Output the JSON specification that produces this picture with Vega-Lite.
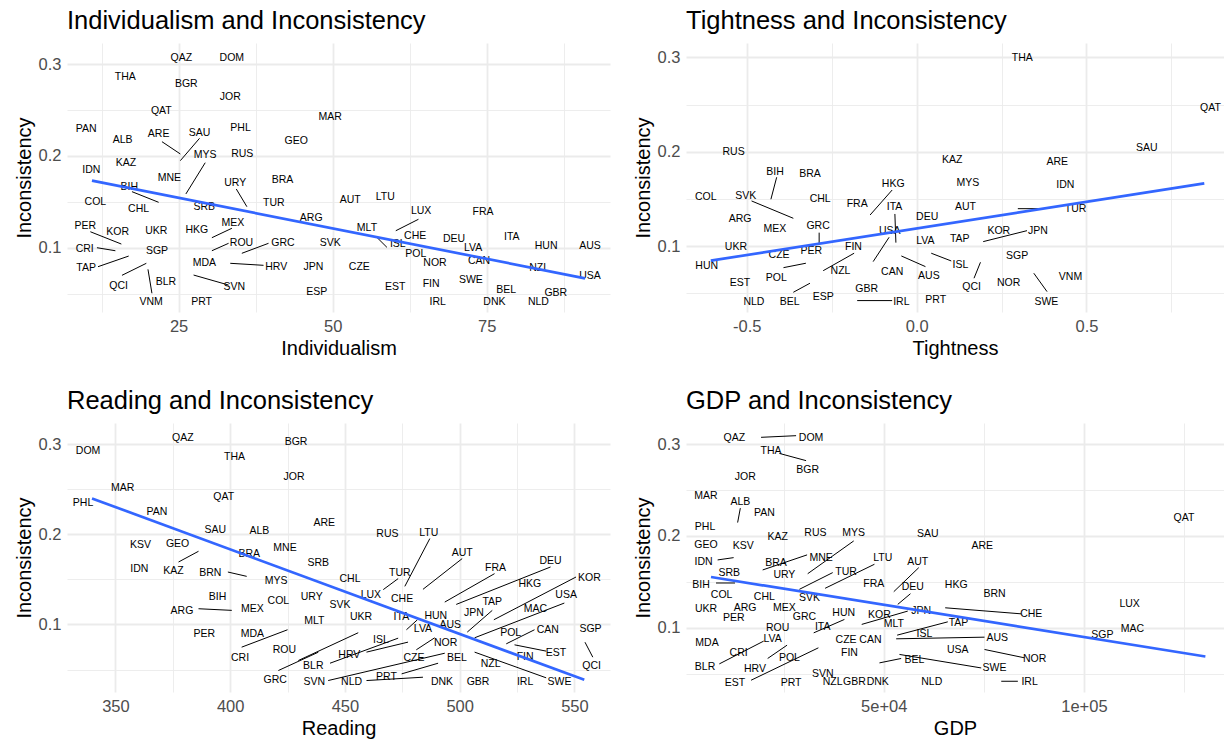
{
"$schema": "https://vega.github.io/schema/vega-lite/v6.json",
"background": "white",
"padding": {"left": 14, "top": 8, "right": 0, "bottom": 0},
"bounds": "flush",
"spacing": {"row": 111, "column": 76},
"columns": 2,
"datasets": {
"lab1": [
{"c":"QAZ","x":25.44,"y":0.3065},{"c":"DOM","x":33.64,"y":0.3065},{"c":"THA","x":16.36,"y":0.2858},{"c":"BGR","x":26.25,"y":0.2782},{"c":"JOR","x":33.38,"y":0.264},{"c":"QAT","x":22.19,"y":0.2494},{"c":"PAN","x":10.0,"y":0.2291},{"c":"PHL","x":35.05,"y":0.2302},{"c":"ALB","x":15.92,"y":0.2174},{"c":"ARE","x":21.76,"y":0.2237},{"c":"SAU","x":28.4,"y":0.2254},{"c":"GEO","x":44.08,"y":0.216},{"c":"MAR","x":49.6,"y":0.2429},{"c":"MYS","x":29.32,"y":0.2008},{"c":"RUS","x":35.33,"y":0.2022},{"c":"IDN","x":10.84,"y":0.1847},{"c":"KAZ","x":16.45,"y":0.1927},{"c":"MNE","x":23.49,"y":0.1757},{"c":"URY","x":34.19,"y":0.1709},{"c":"BRA","x":41.86,"y":0.1738},{"c":"BIH","x":17.0,"y":0.1665},{"c":"COL","x":11.49,"y":0.1502},{"c":"CHL","x":18.51,"y":0.1422},{"c":"SRB","x":29.17,"y":0.144},{"c":"TUR","x":40.46,"y":0.1491},{"c":"AUT","x":52.84,"y":0.152},{"c":"LTU","x":58.52,"y":0.155},{"c":"LUX","x":64.35,"y":0.14},{"c":"FRA","x":74.4,"y":0.1386},{"c":"ARG","x":46.52,"y":0.132},{"c":"MLT","x":55.56,"y":0.1218},{"c":"PER","x":9.87,"y":0.1237},{"c":"KOR","x":15.11,"y":0.1168},{"c":"UKR","x":21.38,"y":0.1182},{"c":"HKG","x":27.97,"y":0.1193},{"c":"MEX","x":33.81,"y":0.1273},{"c":"CHE","x":63.38,"y":0.1131},{"c":"SVK","x":49.6,"y":0.1048},{"c":"DEU","x":69.68,"y":0.1098},{"c":"ITA","x":79.06,"y":0.1113},{"c":"ISL","x":60.56,"y":0.1037},{"c":"HUN","x":84.63,"y":0.1018},{"c":"AUS","x":91.76,"y":0.1018},{"c":"ROU","x":35.2,"y":0.1055},{"c":"GRC","x":41.93,"y":0.1048},{"c":"CRI","x":9.76,"y":0.0989},{"c":"SGP","x":21.49,"y":0.0964},{"c":"LVA","x":72.79,"y":0.0993},{"c":"POL","x":63.49,"y":0.0931},{"c":"NOR","x":66.6,"y":0.0837},{"c":"CAN","x":73.76,"y":0.0855},{"c":"TAP","x":10.0,"y":0.0782},{"c":"MDA","x":29.17,"y":0.083},{"c":"HRV","x":40.84,"y":0.0786},{"c":"JPN","x":46.89,"y":0.0786},{"c":"CZE","x":54.32,"y":0.0786},{"c":"NZL","x":83.5,"y":0.0775},{"c":"USA","x":91.76,"y":0.0691},{"c":"QCI","x":15.27,"y":0.0582},{"c":"BLR","x":22.94,"y":0.0629},{"c":"SVN","x":34.03,"y":0.0575},{"c":"SWE","x":72.43,"y":0.0648},{"c":"EST","x":60.14,"y":0.0568},{"c":"FIN","x":65.97,"y":0.0601},{"c":"BEL","x":78.14,"y":0.0539},{"c":"GBR","x":86.2,"y":0.0509},{"c":"ESP","x":47.43,"y":0.0517},{"c":"VNM","x":20.54,"y":0.0404},{"c":"PRT","x":28.73,"y":0.0404},{"c":"IRL","x":67.04,"y":0.0404},{"c":"DNK","x":76.24,"y":0.0411},{"c":"NLD","x":83.39,"y":0.0411}
],
"seg1": [
{"x":22.3,"y":0.2156,"x2":25.28,"y2":0.2022},{"x":28.4,"y":0.2193,"x2":25.28,"y2":0.1949},{"x":29.32,"y":0.1927,"x2":26.18,"y2":0.1586},{"x":34.36,"y":0.164,"x2":36.08,"y2":0.1447},{"x":17.43,"y":0.1611,"x2":21.76,"y2":0.1495},{"x":10.68,"y":0.1174,"x2":15.71,"y2":0.104},{"x":11.75,"y":0.1,"x2":14.74,"y2":0.0967},{"x":11.92,"y":0.0793,"x2":16.9,"y2":0.0909},{"x":15.81,"y":0.0699,"x2":19.76,"y2":0.083},{"x":20.03,"y":0.0764,"x2":20.67,"y2":0.0503},{"x":30.4,"y":0.1109,"x2":33.65,"y2":0.1212},{"x":30.4,"y":0.0967,"x2":33.11,"y2":0.1048},{"x":35.26,"y":0.0939,"x2":39.59,"y2":0.1048},{"x":33.38,"y":0.083,"x2":38.78,"y2":0.0808},{"x":27.43,"y":0.0702,"x2":33.11,"y2":0.0593},{"x":57.17,"y":0.1113,"x2":58.8,"y2":0.1004},{"x":63.92,"y":0.131,"x2":60.24,"y2":0.1185}
],
"fit1": [{"x":10.94,"y":0.1731},{"x":90.95,"y":0.0666}],
"lab2": [
{"c":"RUS","x":-0.539,"y":0.2},{"c":"BIH","x":-0.417,"y":0.1788},{"c":"BRA","x":-0.314,"y":0.1764},{"c":"COL","x":-0.621,"y":0.1523},{"c":"SVK","x":-0.503,"y":0.1531},{"c":"CHL","x":-0.284,"y":0.1499},{"c":"HKG","x":-0.069,"y":0.1655},{"c":"FRA","x":-0.175,"y":0.1446},{"c":"ITA","x":-0.065,"y":0.1411},{"c":"ARG","x":-0.52,"y":0.1287},{"c":"MEX","x":-0.417,"y":0.1181},{"c":"GRC","x":-0.29,"y":0.1216},{"c":"USA","x":-0.079,"y":0.1163},{"c":"UKR","x":-0.532,"y":0.0987},{"c":"CZE","x":-0.405,"y":0.0906},{"c":"PER","x":-0.31,"y":0.0951},{"c":"FIN","x":-0.186,"y":0.0994},{"c":"HUN","x":-0.618,"y":0.0789},{"c":"NZL","x":-0.224,"y":0.0739},{"c":"CAN","x":-0.072,"y":0.0729},{"c":"POL","x":-0.413,"y":0.0659},{"c":"EST","x":-0.52,"y":0.0606},{"c":"GBR","x":-0.147,"y":0.0549},{"c":"NLD","x":-0.479,"y":0.0411},{"c":"BEL","x":-0.374,"y":0.0405},{"c":"ESP","x":-0.275,"y":0.0458},{"c":"IRL","x":-0.045,"y":0.0411},{"c":"THA","x":0.311,"y":0.2989},{"c":"QAT","x":0.865,"y":0.246},{"c":"SAU","x":0.678,"y":0.2036},{"c":"KAZ","x":0.105,"y":0.1912},{"c":"ARE","x":0.414,"y":0.1894},{"c":"MYS","x":0.151,"y":0.1672},{"c":"IDN","x":0.438,"y":0.1644},{"c":"AUT","x":0.144,"y":0.1411},{"c":"TUR","x":0.468,"y":0.139},{"c":"DEU","x":0.031,"y":0.1305},{"c":"KOR","x":0.242,"y":0.1163},{"c":"JPN","x":0.357,"y":0.1163},{"c":"LVA","x":0.026,"y":0.1054},{"c":"TAP","x":0.127,"y":0.1072},{"c":"ISL","x":0.129,"y":0.08},{"c":"SGP","x":0.296,"y":0.0895},{"c":"VNM","x":0.453,"y":0.0676},{"c":"AUS","x":0.036,"y":0.0683},{"c":"QCI","x":0.162,"y":0.057},{"c":"NOR","x":0.271,"y":0.0612},{"c":"PRT","x":0.056,"y":0.0429},{"c":"SWE","x":0.382,"y":0.0411}
],
"seg2": [
{"x":-0.412,"y":0.1729,"x2":-0.429,"y2":0.1496},{"x":-0.486,"y":0.1478,"x2":-0.363,"y2":0.1294},{"x":-0.072,"y":0.1594,"x2":-0.137,"y2":0.1329},{"x":-0.064,"y":0.134,"x2":-0.061,"y2":0.1036},{"x":-0.287,"y":0.1142,"x2":-0.287,"y2":0.103},{"x":-0.081,"y":0.1093,"x2":-0.128,"y2":0.0835},{"x":-0.184,"y":0.0924,"x2":-0.275,"y2":0.0739},{"x":-0.392,"y":0.0771,"x2":-0.326,"y2":0.0818},{"x":-0.363,"y":0.051,"x2":-0.314,"y2":0.0606},{"x":-0.175,"y":0.0422,"x2":-0.072,"y2":0.0422},{"x":-0.045,"y":0.0895,"x2":0.026,"y2":0.0782},{"x":0.043,"y":0.0924,"x2":0.102,"y2":0.0842},{"x":0.188,"y":0.0828,"x2":0.169,"y2":0.0659},{"x":0.196,"y":0.1047,"x2":0.325,"y2":0.1163},{"x":0.345,"y":0.0712,"x2":0.384,"y2":0.0517},{"x":0.298,"y":0.1396,"x2":0.372,"y2":0.1396}
],
"fit2": [{"x":-0.606,"y":0.0845},{"x":0.847,"y":0.1665}],
"lab3": [
{"c":"DOM","x":338.1,"y":0.2926},{"c":"QAZ","x":379.4,"y":0.307},{"c":"THA","x":401.9,"y":0.2859},{"c":"BGR","x":428.7,"y":0.3022},{"c":"JOR","x":427.8,"y":0.2637},{"c":"MAR","x":353.2,"y":0.2514},{"c":"QAT","x":397.2,"y":0.2414},{"c":"PHL","x":335.9,"y":0.2341},{"c":"PAN","x":368.1,"y":0.2241},{"c":"SAU","x":393.5,"y":0.2044},{"c":"ALB","x":412.7,"y":0.2037},{"c":"ARE","x":441.0,"y":0.2119},{"c":"KSV","x":360.9,"y":0.1885},{"c":"GEO","x":377.1,"y":0.1896},{"c":"MNE","x":423.9,"y":0.1848},{"c":"BRA","x":408.3,"y":0.1785},{"c":"IDN","x":360.4,"y":0.1619},{"c":"KAZ","x":375.3,"y":0.1593},{"c":"BRN","x":391.3,"y":0.1574},{"c":"SRB","x":438.4,"y":0.1685},{"c":"MYS","x":420.0,"y":0.1478},{"c":"CHL","x":452.2,"y":0.1508},{"c":"BIH","x":394.5,"y":0.1303},{"c":"COL","x":421.0,"y":0.1259},{"c":"URY","x":435.5,"y":0.1303},{"c":"SVK","x":447.8,"y":0.1211},{"c":"ARG","x":379.0,"y":0.1148},{"c":"MEX","x":409.7,"y":0.1174},{"c":"MLT","x":436.7,"y":0.1037},{"c":"UKR","x":457.0,"y":0.1081},{"c":"PER","x":388.7,"y":0.0889},{"c":"MDA","x":409.7,"y":0.0889},{"c":"ROU","x":423.6,"y":0.0719},{"c":"CRI","x":404.3,"y":0.0626},{"c":"GRC","x":419.6,"y":0.0386},{"c":"BLR","x":436.2,"y":0.0544},{"c":"SVN","x":436.7,"y":0.0359},{"c":"RUS","x":468.5,"y":0.2007},{"c":"LTU","x":486.5,"y":0.2019},{"c":"AUT","x":501.1,"y":0.1797},{"c":"DEU","x":539.6,"y":0.17},{"c":"FRA","x":515.6,"y":0.1626},{"c":"TUR","x":473.9,"y":0.1574},{"c":"KOR","x":556.5,"y":0.1514},{"c":"HKG","x":530.6,"y":0.1452},{"c":"LUX","x":461.3,"y":0.1322},{"c":"CHE","x":474.9,"y":0.1278},{"c":"USA","x":546.4,"y":0.1322},{"c":"TAP","x":514.2,"y":0.1248},{"c":"MAC","x":533.0,"y":0.1174},{"c":"JPN","x":506.2,"y":0.113},{"c":"ITA","x":474.6,"y":0.1081},{"c":"HUN","x":489.6,"y":0.1089},{"c":"LVA","x":484.0,"y":0.0952},{"c":"AUS","x":495.9,"y":0.0989},{"c":"SGP","x":557.0,"y":0.0952},{"c":"CAN","x":538.4,"y":0.0941},{"c":"POL","x":522.2,"y":0.0903},{"c":"ISL","x":465.7,"y":0.083},{"c":"NOR","x":493.9,"y":0.0793},{"c":"EST","x":542.0,"y":0.0681},{"c":"HRV","x":451.9,"y":0.0656},{"c":"CZE","x":480.1,"y":0.0626},{"c":"BEL","x":498.8,"y":0.0626},{"c":"FIN","x":528.5,"y":0.0637},{"c":"QCI","x":557.5,"y":0.0537},{"c":"NZL","x":513.5,"y":0.0556},{"c":"PRT","x":468.1,"y":0.0415},{"c":"NLD","x":452.9,"y":0.0359},{"c":"DNK","x":492.3,"y":0.0367},{"c":"GBR","x":508.0,"y":0.0367},{"c":"IRL","x":528.5,"y":0.0367},{"c":"SWE","x":543.5,"y":0.0359}
],
"seg3": [
{"x":377.5,"y":0.1692,"x2":386.2,"y2":0.1811},{"x":399.0,"y":0.1581,"x2":407.2,"y2":0.1533},{"x":386.2,"y":0.1174,"x2":400.7,"y2":0.1156},{"x":405.0,"y":0.0748,"x2":425.0,"y2":0.0941},{"x":421.0,"y":0.0489,"x2":438.4,"y2":0.0692},{"x":487.0,"y":0.1952,"x2":476.1,"y2":0.1422},{"x":501.1,"y":0.173,"x2":484.0,"y2":0.1389},{"x":473.2,"y":0.1508,"x2":466.7,"y2":0.1386},{"x":515.2,"y":0.1563,"x2":493.5,"y2":0.1248},{"x":539.6,"y":0.1637,"x2":498.5,"y2":0.1222},{"x":550.7,"y":0.1526,"x2":514.9,"y2":0.1052},{"x":545.6,"y":0.1237,"x2":506.5,"y2":0.0852},{"x":514.2,"y":0.1156,"x2":503.3,"y2":0.0915},{"x":455.8,"y":0.0908,"x2":429.7,"y2":0.06},{"x":473.2,"y":0.0848,"x2":443.5,"y2":0.057},{"x":477.5,"y":0.0804,"x2":459.4,"y2":0.0693},{"x":489.1,"y":0.0852,"x2":481.1,"y2":0.0719},{"x":481.6,"y":0.1052,"x2":476.8,"y2":0.0941},{"x":493.5,"y":0.0681,"x2":442.7,"y2":0.0378},{"x":490.6,"y":0.057,"x2":474.7,"y2":0.0452},{"x":484.0,"y":0.0415,"x2":459.4,"y2":0.0378},{"x":532.6,"y":0.0941,"x2":520.3,"y2":0.0785},{"x":537.7,"y":0.0704,"x2":523.9,"y2":0.0774},{"x":537.7,"y":0.0408,"x2":506.5,"y2":0.0693},{"x":554.6,"y":0.0803,"x2":558.0,"y2":0.0637}
],
"fit3": [{"x":339.8,"y":0.2397},{"x":554.3,"y":0.0386}],
"lab4": [
{"c":"QAZ","x":12675,"y":0.3062},{"c":"DOM","x":31850,"y":0.3062},{"c":"THA","x":21850,"y":0.292},{"c":"BGR","x":31000,"y":0.2717},{"c":"JOR","x":15425,"y":0.2637},{"c":"MAR","x":5600,"y":0.2437},{"c":"ALB","x":14175,"y":0.2374},{"c":"PAN","x":20175,"y":0.2248},{"c":"PHL","x":5350,"y":0.2098},{"c":"QAT","x":125000,"y":0.2193},{"c":"SAU","x":61000,"y":0.2025},{"c":"RUS","x":32925,"y":0.2029},{"c":"MYS","x":42500,"y":0.2029},{"c":"KAZ","x":23500,"y":0.1989},{"c":"GEO","x":5600,"y":0.1902},{"c":"KSV","x":14925,"y":0.1891},{"c":"ARE","x":74600,"y":0.1891},{"c":"IDN","x":5000,"y":0.1719},{"c":"MNE","x":34350,"y":0.1763},{"c":"BRA","x":23100,"y":0.1709},{"c":"LTU","x":49750,"y":0.1763},{"c":"AUT","x":58500,"y":0.1716},{"c":"SRB","x":11425,"y":0.1593},{"c":"URY","x":25175,"y":0.1571},{"c":"TUR","x":40600,"y":0.1607},{"c":"BIH","x":4350,"y":0.1465},{"c":"FRA","x":47500,"y":0.1473},{"c":"DEU","x":57250,"y":0.1443},{"c":"HKG","x":68100,"y":0.1465},{"c":"BRN","x":77675,"y":0.137},{"c":"COL","x":9500,"y":0.1356},{"c":"CHL","x":20175,"y":0.1337},{"c":"SVK","x":31425,"y":0.1326},{"c":"LUX","x":111425,"y":0.1261},{"c":"UKR","x":5600,"y":0.12},{"c":"ARG","x":15350,"y":0.1217},{"c":"MEX","x":25175,"y":0.1217},{"c":"PER","x":12550,"y":0.1108},{"c":"GRC","x":30175,"y":0.1119},{"c":"HUN","x":40000,"y":0.1156},{"c":"KOR","x":48925,"y":0.1138},{"c":"JPN","x":59350,"y":0.1181},{"c":"CHE","x":86850,"y":0.1145},{"c":"MLT","x":52500,"y":0.1043},{"c":"TAP","x":68675,"y":0.1053},{"c":"ROU","x":23500,"y":0.0992},{"c":"ITA","x":34750,"y":0.101},{"c":"ISL","x":60175,"y":0.0933},{"c":"MAC","x":112100,"y":0.0981},{"c":"SGP","x":104600,"y":0.0919},{"c":"MDA","x":5850,"y":0.0835},{"c":"LVA","x":22250,"y":0.0879},{"c":"CZE","x":40600,"y":0.0865},{"c":"CAN","x":46675,"y":0.0861},{"c":"AUS","x":78350,"y":0.089},{"c":"CRI","x":13750,"y":0.0726},{"c":"FIN","x":41425,"y":0.0726},{"c":"USA","x":68500,"y":0.0752},{"c":"BEL","x":57675,"y":0.0646},{"c":"POL","x":26425,"y":0.0671},{"c":"NOR","x":87675,"y":0.0661},{"c":"SWE","x":77675,"y":0.0562},{"c":"BLR","x":5350,"y":0.057},{"c":"HRV","x":17825,"y":0.0545},{"c":"SVN","x":34750,"y":0.0497},{"c":"EST","x":12850,"y":0.0398},{"c":"PRT","x":26850,"y":0.0398},{"c":"NZL","x":37250,"y":0.0409},{"c":"GBR","x":42675,"y":0.0409},{"c":"DNK","x":48500,"y":0.0409},{"c":"NLD","x":62000,"y":0.0409},{"c":"IRL","x":86425,"y":0.0405}
],
"seg4": [
{"x":19350,"y":0.3073,"x2":28100,"y2":0.3091},{"x":23925,"y":0.2898,"x2":30600,"y2":0.2819},{"x":14175,"y":0.2302,"x2":13500,"y2":0.2145},{"x":8500,"y":0.1738,"x2":12500,"y2":0.1763},{"x":19750,"y":0.1629,"x2":30850,"y2":0.1793},{"x":42500,"y":0.1945,"x2":31000,"y2":0.1588},{"x":37250,"y":0.16,"x2":28925,"y2":0.1418},{"x":47675,"y":0.1691,"x2":35350,"y2":0.1429},{"x":8100,"y":0.1487,"x2":12850,"y2":0.1487},{"x":8925,"y":0.0606,"x2":20000,"y2":0.0854},{"x":21000,"y":0.0665,"x2":25850,"y2":0.081},{"x":16850,"y":0.0428,"x2":33675,"y2":0.0781},{"x":32500,"y":0.0944,"x2":40175,"y2":0.109},{"x":58750,"y":0.1654,"x2":52500,"y2":0.1392},{"x":56675,"y":0.137,"x2":53500,"y2":0.1254},{"x":44500,"y":0.1036,"x2":56000,"y2":0.1181},{"x":65350,"y":0.1217,"x2":84350,"y2":0.1151},{"x":53350,"y":0.0919,"x2":66000,"y2":0.1064},{"x":53100,"y":0.0879,"x2":75175,"y2":0.0897},{"x":53925,"y":0.0709,"x2":74350,"y2":0.0562},{"x":48925,"y":0.0617,"x2":54350,"y2":0.0665},{"x":75175,"y":0.0763,"x2":85175,"y2":0.0672},{"x":79350,"y":0.0417,"x2":83500,"y2":0.0417}
],
"fit4": [{"x":6850,"y":0.1552},{"x":130350,"y":0.0687}]
},
"concat": [
{"width": 543, "height": 269, "title": "Individualism and Inconsistency",
 "encoding": {
  "x": {"field":"x","type":"quantitative","scale":{"domain":[6.89,95.0],"nice":false,"zero":false},
   "axis":{"title":"Individualism","values":[12.5,25,37.5,50,62.5,75,87.5],"labelExpr":"datum.value % 25 === 0 ? datum.label : ''","gridWidth":{"condition":{"test":"datum.value % 25 === 0","value":1.8},"value":0.9}}},
  "y": {"field":"y","type":"quantitative","scale":{"domain":[0.0299,0.3232],"nice":false,"zero":false},
   "axis":{"title":"Inconsistency","values":[0.05,0.1,0.15,0.2,0.25,0.3],"labelExpr":"abs(datum.value*10 - round(datum.value*10)) < 0.001 ? format(datum.value, '.1f') : ''","gridWidth":{"condition":{"test":"abs(datum.value*10 - round(datum.value*10)) < 0.001","value":1.8},"value":0.9}}}
 },
 "layer": [
  {"data":{"name":"seg1"},"mark":{"type":"rule","color":"black","strokeWidth":1},"encoding":{"x2":{"field":"x2"},"y2":{"field":"y2"}}},
  {"data":{"name":"lab1"},"mark":{"type":"text","fontSize":10.5,"font":"Liberation Sans","color":"black"},"encoding":{"text":{"field":"c"}}},
  {"data":{"name":"fit1"},"mark":{"type":"line","color":"#3366FF","strokeWidth":2.7},"encoding":{}}
 ]},
{"width": 538, "height": 269, "title": "Tightness and Inconsistency",
 "encoding": {
  "x": {"field":"x","type":"quantitative","scale":{"domain":[-0.679,0.905],"nice":false,"zero":false},
   "axis":{"title":"Tightness","values":[-0.5,-0.25,0,0.25,0.5,0.75],"labelExpr":"datum.value === -0.5 ? '-0.5' : datum.value === 0 ? '0.0' : datum.value === 0.5 ? '0.5' : ''","gridWidth":{"condition":{"test":"datum.value === -0.5 || datum.value === 0 || datum.value === 0.5","value":1.8},"value":0.9}}},
  "y": {"field":"y","type":"quantitative","scale":{"domain":[0.0301,0.3152],"nice":false,"zero":false},
   "axis":{"title":"Inconsistency","values":[0.05,0.1,0.15,0.2,0.25,0.3],"labelExpr":"abs(datum.value*10 - round(datum.value*10)) < 0.001 ? format(datum.value, '.1f') : ''","gridWidth":{"condition":{"test":"abs(datum.value*10 - round(datum.value*10)) < 0.001","value":1.8},"value":0.9}}}
 },
 "layer": [
  {"data":{"name":"seg2"},"mark":{"type":"rule","color":"black","strokeWidth":1},"encoding":{"x2":{"field":"x2"},"y2":{"field":"y2"}}},
  {"data":{"name":"lab2"},"mark":{"type":"text","fontSize":10.5,"font":"Liberation Sans","color":"black"},"encoding":{"text":{"field":"c"}}},
  {"data":{"name":"fit2"},"mark":{"type":"line","color":"#3366FF","strokeWidth":2.7},"encoding":{}}
 ]},
{"width": 543, "height": 269, "title": "Reading and Inconsistency",
 "encoding": {
  "x": {"field":"x","type":"quantitative","scale":{"domain":[328.9,565.5],"nice":false,"zero":false},
   "axis":{"title":"Reading","values":[350,375,400,425,450,475,500,525,550],"labelExpr":"datum.value % 50 === 0 ? datum.label : ''","gridWidth":{"condition":{"test":"datum.value % 50 === 0","value":1.8},"value":0.9}}},
  "y": {"field":"y","type":"quantitative","scale":{"domain":[0.0251,0.3233],"nice":false,"zero":false},
   "axis":{"title":"Inconsistency","values":[0.05,0.1,0.15,0.2,0.25,0.3],"labelExpr":"abs(datum.value*10 - round(datum.value*10)) < 0.001 ? format(datum.value, '.1f') : ''","gridWidth":{"condition":{"test":"abs(datum.value*10 - round(datum.value*10)) < 0.001","value":1.8},"value":0.9}}}
 },
 "layer": [
  {"data":{"name":"seg3"},"mark":{"type":"rule","color":"black","strokeWidth":1},"encoding":{"x2":{"field":"x2"},"y2":{"field":"y2"}}},
  {"data":{"name":"lab3"},"mark":{"type":"text","fontSize":10.5,"font":"Liberation Sans","color":"black"},"encoding":{"text":{"field":"c"}}},
  {"data":{"name":"fit3"},"mark":{"type":"line","color":"#3366FF","strokeWidth":2.7},"encoding":{}}
 ]},
{"width": 538, "height": 269, "title": "GDP and Inconsistency",
 "encoding": {
  "x": {"field":"x","type":"quantitative","scale":{"domain":[600,135000],"nice":false,"zero":false},
   "axis":{"title":"GDP","values":[25000,50000,75000,100000,125000],"labelExpr":"datum.value === 50000 ? '5e+04' : datum.value === 100000 ? '1e+05' : ''","gridWidth":{"condition":{"test":"datum.value % 50000 === 0","value":1.8},"value":0.9}}},
  "y": {"field":"y","type":"quantitative","scale":{"domain":[0.03,0.3229],"nice":false,"zero":false},
   "axis":{"title":"Inconsistency","values":[0.05,0.1,0.15,0.2,0.25,0.3],"labelExpr":"abs(datum.value*10 - round(datum.value*10)) < 0.001 ? format(datum.value, '.1f') : ''","gridWidth":{"condition":{"test":"abs(datum.value*10 - round(datum.value*10)) < 0.001","value":1.8},"value":0.9}}}
 },
 "layer": [
  {"data":{"name":"seg4"},"mark":{"type":"rule","color":"black","strokeWidth":1},"encoding":{"x2":{"field":"x2"},"y2":{"field":"y2"}}},
  {"data":{"name":"lab4"},"mark":{"type":"text","fontSize":10.5,"font":"Liberation Sans","color":"black"},"encoding":{"text":{"field":"c"}}},
  {"data":{"name":"fit4"},"mark":{"type":"line","color":"#3366FF","strokeWidth":2.7},"encoding":{}}
 ]}
],
"config": {
 "view": {"stroke": null},
 "axis": {"domain": false, "ticks": false, "labelColor": "#4D4D4D", "labelFontSize": 16.5, "labelFont": "Liberation Sans", "titleFont": "Liberation Sans", "titleFontSize": 20, "titleFontWeight": "normal", "titleColor": "black", "gridColor": "#EBEBEB", "labelPadding": 6, "titlePadding": 4, "labelOverlap": false, "labelFlush": false},
 "title": {"anchor": "start", "fontSize": 25.5, "font": "Liberation Sans", "fontWeight": "normal", "color": "black", "frame": "group", "offset": 9}
}
}
